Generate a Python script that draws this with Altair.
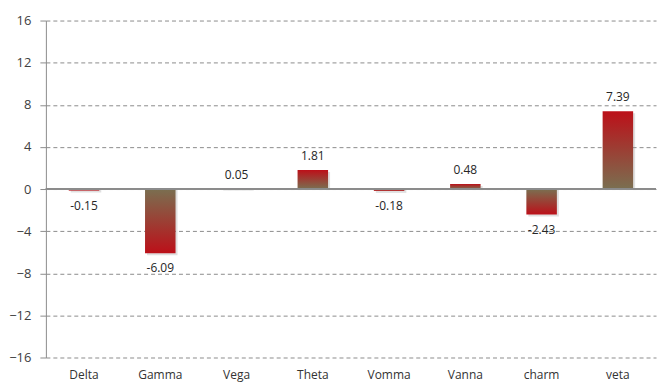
import altair as alt
import pandas as pd

categories = ["Delta", "Gamma", "Vega", "Theta", "Vomma", "Vanna", "charm", "veta"]
values = [-0.15, -6.09, 0.05, 1.81, -0.18, 0.48, -2.43, 7.39]
y_ticks = [-16, -12, -8, -4, 0, 4, 8, 12, 16]

df = pd.DataFrame({"cat": categories, "val": values})
df["lbl"] = [f"{v:.2f}" for v in values]

RED = "#BC1019"
OLIVE = "#7A6F50"

x_enc = alt.X("cat:N", sort=categories, title=None,
              scale=alt.Scale(paddingInner=0.6, paddingOuter=0.3),
              axis=alt.Axis(labelAngle=0, ticks=False, domain=False, labelPadding=12,
                            labelFontSize=12, labelColor="#333333", labelFont="Open Sans"))
y_enc = alt.Y("val:Q", title=None,
              scale=alt.Scale(domain=[-16, 16], nice=False),
              axis=alt.Axis(values=y_ticks, grid=True, gridDash=[4, 3], gridColor="#8c8c8c",
                            domainColor="#8c8c8c", tickColor="#8c8c8c", tickSize=6,
                            labelPadding=9, labelFontSize=13, labelColor="#404040",
                            labelFont="Open Sans"))

base = alt.Chart(df)

pos_grad = alt.Gradient(gradient="linear", x1=0, y1=0, x2=0, y2=1,
                        stops=[alt.GradientStop(color=RED, offset=0),
                               alt.GradientStop(color=OLIVE, offset=1)])
neg_grad = alt.Gradient(gradient="linear", x1=0, y1=0, x2=0, y2=1,
                        stops=[alt.GradientStop(color=OLIVE, offset=0),
                               alt.GradientStop(color=RED, offset=1)])

shadow = base.mark_bar(color="#999999", opacity=0.3, xOffset=2, yOffset=2).encode(
    x=x_enc, y=y_enc, y2=alt.datum(0))

pos_bars = base.transform_filter("datum.val >= 0").mark_bar(color=pos_grad).encode(
    x=x_enc, y=y_enc, y2=alt.datum(0))
neg_bars = base.transform_filter("datum.val < 0").mark_bar(color=neg_grad).encode(
    x=x_enc, y=y_enc, y2=alt.datum(0))

zero = base.mark_rule(color="#8c8c8c", strokeWidth=1).encode(y=alt.datum(0))

pos_lbl = base.transform_filter("datum.val >= 0").mark_text(
    baseline="alphabetic", dy=-10, fontSize=12, color="#262626", font="Open Sans").encode(
    x=x_enc, y=y_enc, text="lbl:N")
neg_lbl = base.transform_filter("datum.val < 0").mark_text(
    baseline="top", dy=10, fontSize=12, color="#262626", font="Open Sans").encode(
    x=x_enc, y=y_enc, text="lbl:N")

chart = alt.layer(shadow, pos_bars, neg_bars, zero, pos_lbl, neg_lbl).properties(
    width=612, height=338,
    autosize=alt.AutoSizeParams(type="none"),
    padding={"left": 38, "top": 12, "right": 5, "bottom": 30},
).configure_view(stroke=None)

chart.save("out.html", embed_options={"renderer": "svg", "actions": False})
